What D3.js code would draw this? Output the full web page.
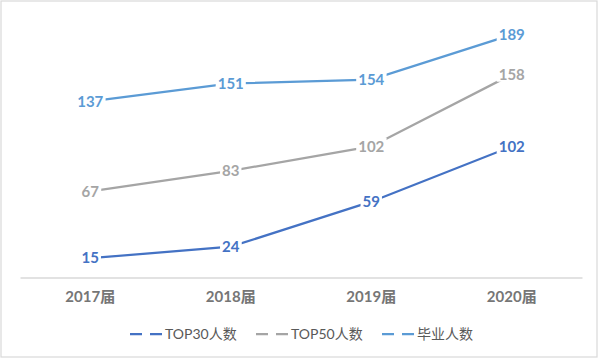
<!DOCTYPE html>
<html><head><meta charset="utf-8">
<script src="https://cdn.jsdelivr.net/npm/d3@7"></script>
<style>
html,body{margin:0;padding:0;background:#fff;}
svg{display:block;}
</style></head>
<body>
<svg id="c" width="600" height="360"></svg>
<script>
const categories = ["2017届","2018届","2019届","2020届"];
const top30 = [15, 24, 59, 102];
const top50 = [67, 83, 102, 158];
const graduates = [137, 151, 154, 189];
const seriesNames = ["TOP30人数","TOP50人数","毕业人数"];
const yTicks = [0, 200];

const series = [
  {name: seriesNames[0], values: top30, color: "#4472C4"},
  {name: seriesNames[1], values: top50, color: "#A5A5A5"},
  {name: seriesNames[2], values: graduates, color: "#5B9BD5"}
];

const svg = d3.select("#c");
const font = "Lato, 'Noto Sans CJK SC', sans-serif";

svg.append("rect").attr("x",1).attr("y",1).attr("width",596).attr("height",356)
  .attr("fill","#fff").attr("stroke","#d9d9d9").attr("stroke-width",1.2);

const x = d3.scaleBand().domain(categories).range([20, 582]);
const y = d3.scaleLinear().domain([yTicks[0], yTicks[1]]).range([277.5, 20.5]);
const cx = c => x(c) + x.bandwidth()/2;

// axis
const xAxis = d3.axisBottom(x).tickSize(0).tickPadding(14);
const gx = svg.append("g").attr("transform", `translate(0,${y(0)})`).call(xAxis);
gx.select(".domain").attr("stroke","#d9d9d9").attr("stroke-width",1.3);
gx.selectAll("text").attr("font-family",font).attr("font-size",15).attr("font-weight","bold").attr("fill","#767676");

const line = d3.line().x((d,i)=>cx(categories[i])).y(d=>y(d));

series.forEach(s => {
  svg.append("path").datum(s.values).attr("d", line)
    .attr("fill","none").attr("stroke", s.color).attr("stroke-width",2.25).attr("stroke-linecap","round");
});

// data labels with white backing (line clipped at label)
series.forEach(s => {
  const g = svg.append("g");
  s.values.forEach((v,i) => {
    const t = g.append("text").attr("x", cx(categories[i])).attr("y", y(v))
      .attr("text-anchor","middle").attr("dy","0.35em")
      .attr("font-family",font).attr("font-size",15).attr("font-weight","bold")
      .attr("fill", s.color).text(v);
    const b = t.node().getBBox();
    g.insert("rect","text").attr("x",b.x-2).attr("y",b.y+1).attr("width",b.width+4).attr("height",b.height-2).attr("fill","#fff");
  });
});

// legend
const legendX = [130, 256, 382];
series.forEach((s,i) => {
  const g = svg.append("g").attr("transform",`translate(${legendX[i]},334)`);
  g.append("line").attr("x1",0).attr("x2",33).attr("y1",0).attr("y2",0)
    .attr("stroke",s.color).attr("stroke-width",2.25).attr("stroke-dasharray","12,8");
  g.append("text").attr("x",35).attr("y",0).attr("dy","0.35em")
    .attr("font-family",font).attr("font-size",14).attr("fill","#595959").text(s.name);
});
</script>
</body></html>
